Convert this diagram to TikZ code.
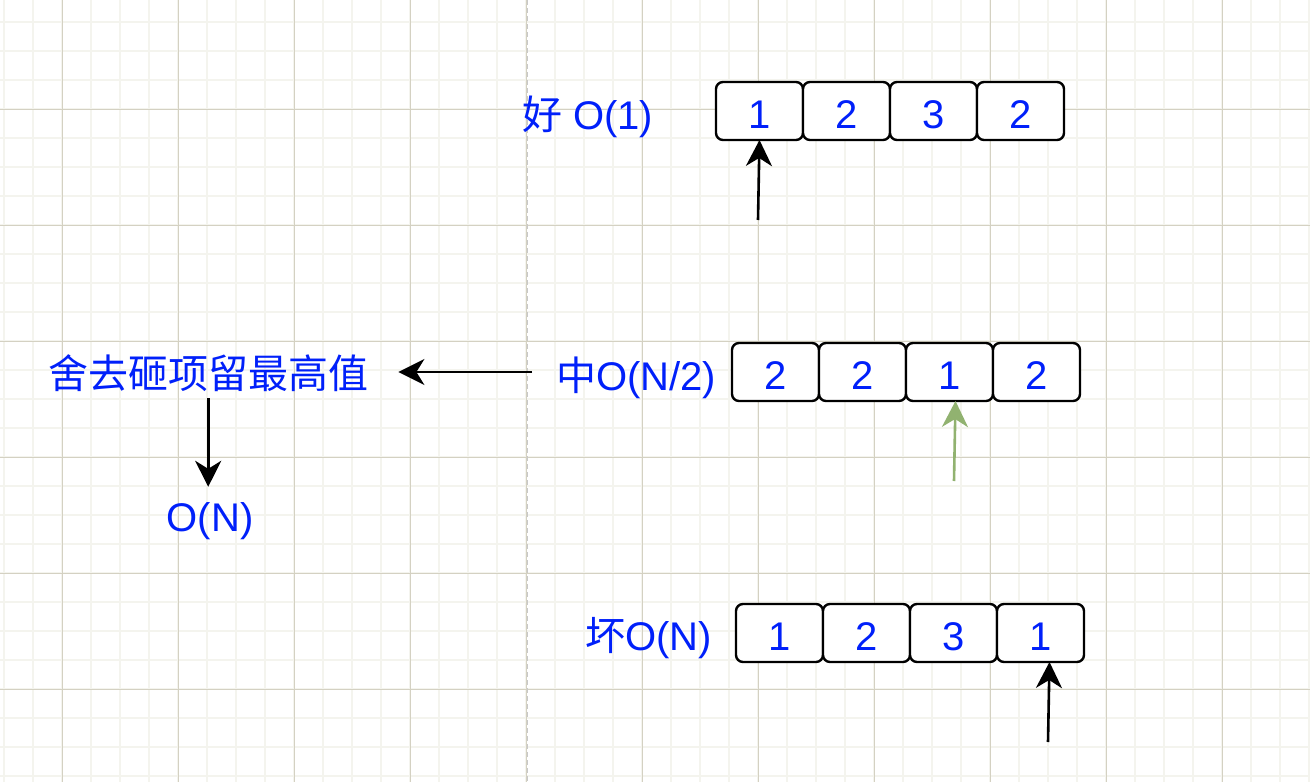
\documentclass[tikz,border=0pt]{standalone}
\usepackage{fontspec}
\setmainfont{Liberation Sans}
\newfontfamily\cjk{Noto Sans CJK SC}
\usetikzlibrary{arrows.meta,calc}
\definecolor{txtblue}{RGB}{0,32,250}
\definecolor{gridminor}{RGB}{244,244,238}
\definecolor{gridmajor}{RGB}{212,209,194}
\definecolor{pagedash}{RGB}{200,200,200}
\definecolor{arrgreen}{RGB}{145,178,112}
\tikzset{
  cell/.style={draw=black, fill=white, line width=2.4pt, rounded corners=7pt,
    minimum width=87pt, minimum height=58pt, inner sep=0pt, outer sep=0pt, anchor=west,
    text height=34.6pt, text depth=0pt,
    text=txtblue, font=\fontsize{40}{48}\selectfont},
  lab/.style={inner sep=0pt, text=txtblue, font=\fontsize{40}{48}\selectfont},
  conn/.style={line width=2.6pt, -{Stealth[length=26pt,width=26pt,inset=8pt]}},
}
\begin{document}
\begin{tikzpicture}[x=1pt,y=-1pt]
\useasboundingbox (0,0) rectangle (1310,782);
\fill[white] (0,0) rectangle (1310,782);
% grid
\foreach \i in {0,...,45} {
  \draw[gridminor, line width=2pt] ({4.3+29*\i},0) -- ({4.3+29*\i},782);
}
\foreach \i in {0,...,27} {
  \draw[gridminor, line width=2pt] (0,{-6.7+29*\i}) -- (1310,{-6.7+29*\i});
}
\foreach \i in {0,...,10} {
  \draw[gridmajor, line width=1.2pt] ({62.3+116*\i},0) -- ({62.3+116*\i},782);
}
\foreach \i in {0,...,5} {
  \draw[gridmajor, line width=1.2pt] (0,{109.3+116*\i}) -- (1310,{109.3+116*\i});
}
\draw[pagedash, line width=1.8pt, dash pattern=on 5pt off 3pt] (527.5,0) -- (527.5,782);

% row 1
\node[cell] (a1) at (716,111) {1};
\node[cell] (a2) at (a1.east) {2};
\node[cell] (a3) at (a2.east) {3};
\node[cell] (a4) at (a3.east) {2};
\node[lab, anchor=base west] (l1) at (522,129) {{\cjk 好} O(1)};
\coordinate (p1) at (758,220);
\draw[conn] (p1) -- (a1.south);

% row 2
\node[cell] (b1) at (732,372) {2};
\node[cell] (b2) at (b1.east) {2};
\node[cell] (b3) at (b2.east) {1};
\node[cell] (b4) at (b3.east) {2};
\node[lab, anchor=base west] (l2) at (556,390) {{\cjk 中}O(N/2)};
\coordinate (p2) at (954,481);
\draw[conn, arrgreen] (p2) -- ([xshift=6pt]b3.south);

% row 3
\node[cell] (c1) at (736,633) {1};
\node[cell] (c2) at (c1.east) {2};
\node[cell] (c3) at (c2.east) {3};
\node[cell] (c4) at (c3.east) {1};
\node[lab, anchor=base west] (l3) at (585,650) {{\cjk 坏}O(N)};
\coordinate (p3) at (1048,742);
\draw[conn] (p3) -- ([xshift=9pt]c4.south);

% left part
\node[lab, anchor=base west] (rule) at (48,388) {\cjk 舍去砸项留最高值};
\node[lab, anchor=base] (on) at (210,531) {O(N)};
\coordinate (p4) at (532,372);
\draw[conn, shorten >=30pt] (p4) -- (rule.east |- p4);
\draw[conn, shorten <=7pt, shorten >=15pt] (rule.south) -- (rule.south |- on.north);
\end{tikzpicture}
\end{document}
